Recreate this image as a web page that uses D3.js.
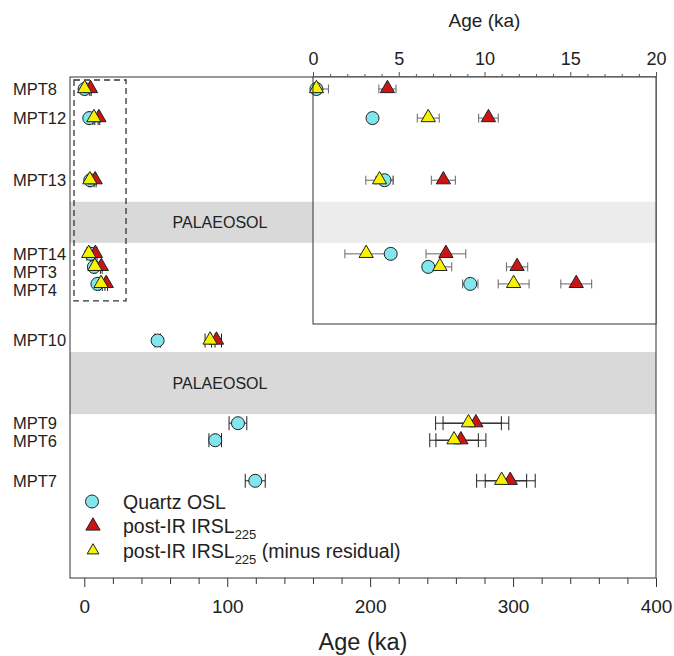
<!DOCTYPE html>
<html>
<head>
<meta charset="utf-8">
<script src="https://cdn.jsdelivr.net/npm/d3@7"></script>
<style>
  body { margin: 0; background: #fff; }
  svg { font-family: "Liberation Sans", Arial, sans-serif; }
</style>
</head>
<body>
<script>
// sample names and their position down the section (arbitrary depth units)
const samples = ["MPT8", "MPT12", "MPT13", "MPT14", "MPT3", "MPT4", "MPT10", "MPT9", "MPT6", "MPT7"];
const depth   = [2.4, 8.2, 20.6, 35.3, 37.9, 41.3, 52.6, 69.1, 72.5, 80.6];

// ages in ka with 1-sigma errors
const oslAge  = [0.2, 3.47, 4.17, 4.53, 6.72, 9.17, 51.3, 107.5, 91.6, 119.6];
const oslErr  = [0.3, 0.2, 0.5, 0.3, 0.3, 0.45, 2, 6.2, 4.4, 7];
const irslAge = [4.34, 10.23, 7.6, 7.75, 11.9, 15.35, 92.5, 274, 263.5, 298];
const irslErr = [0.5, 0.57, 0.7, 1.16, 0.62, 0.9, 3.5, 23, 17.5, 17.5];
const resAge  = [0.2, 6.72, 3.88, 3.1, 7.4, 11.7, 88, 268.8, 258.7, 292];
const resErr  = [0.7, 0.64, 0.8, 1.24, 0.69, 0.9, 3.5, 23, 17, 17.5];

// palaeosol units (depth from - to)
const palaeosols = [[24.9, 33.1], [54.9, 67.3]];

const mainTicks  = [0, 20, 40, 60, 80, 100, 120, 140, 160, 180, 200, 220, 240, 260, 280, 300, 320, 340, 360, 380, 400];
const insetTicks = [0, 1, 2, 3, 4, 5, 6, 7, 8, 9, 10, 11, 12, 13, 14, 15, 16, 17, 18, 19, 20];

const legendLabels = ["Quartz OSL", "post-IR IRSL", "post-IR IRSL"];

const W = 674, H = 656;
const colors = { osl: "#82e6ee", irsl: "#cc1414", res: "#f6f200" };

const svg = d3.select("body").append("svg")
  .attr("width", W)
  .attr("height", H);

// main scales
const x = d3.scaleLinear().domain([-10, 400]).range([70, 656]);
const y = d3.scaleLinear().domain([0, 100]).range([77, 578]);
// inset scale
const xi = d3.scaleLinear().domain([0, 20]).range([313, 656]);
const insetBottom = 49.3;

const rows = samples.map(function(s, i) {
  return {
    name: s, depth: depth[i],
    series: [
      { key: "osl", age: oslAge[i], err: oslErr[i] },
      { key: "irsl", age: irslAge[i], err: irslErr[i] },
      { key: "res", age: resAge[i], err: resErr[i] }
    ]
  };
});

const tri = d3.symbol().type(d3.symbolTriangle).size(88);

function drawPoints(g, xs, data, cap, barColor) {
  const pts = [];
  data.forEach(function(r) {
    r.series.forEach(function(s) { pts.push({ depth: r.depth, key: s.key, age: s.age, err: s.err }); });
  });
  // error bars (ages can't go below zero)
  const eb = g.append("g").attr("stroke", barColor).attr("stroke-width", 1).attr("fill", "none");
  pts.forEach(function(p) {
    const cy = y(p.depth), x0 = xs(Math.max(0, p.age - p.err)), x1 = xs(p.age + p.err);
    eb.append("line").attr("x1", x0).attr("x2", x1).attr("y1", cy).attr("y2", cy);
    if (p.age - p.err > 0)
      eb.append("line").attr("x1", x0).attr("x2", x0).attr("y1", cy - cap).attr("y2", cy + cap);
    eb.append("line").attr("x1", x1).attr("x2", x1).attr("y1", cy - cap).attr("y2", cy + cap);
  });
  // circles, then red, then yellow triangles
  g.selectAll("circle.osl")
    .data(pts.filter(function(p) { return p.key === "osl"; }))
    .enter().append("circle")
    .attr("class", "osl")
    .attr("cx", function(p) { return xs(p.age); })
    .attr("cy", function(p) { return y(p.depth); })
    .attr("r", 6.5)
    .attr("fill", colors.osl)
    .attr("stroke", "#222");
  ["irsl", "res"].forEach(function(k) {
    g.selectAll("path." + k)
      .data(pts.filter(function(p) { return p.key === k; }))
      .enter().append("path")
      .attr("class", k)
      .attr("d", tri)
      .attr("transform", function(p) { return "translate(" + xs(p.age) + "," + (y(p.depth) - 0.5) + ")"; })
      .attr("fill", colors[k])
      .attr("stroke", "#222");
  });
}

// palaeosol bands (main)
palaeosols.forEach(function(b) {
  svg.append("rect")
    .attr("x", x(-10)).attr("width", x(400) - x(-10))
    .attr("y", y(b[0])).attr("height", y(b[1]) - y(b[0]))
    .attr("fill", "#d9d9d9");
  svg.append("text")
    .attr("x", 220).attr("y", (y(b[0]) + y(b[1])) / 2)
    .attr("dy", "0.36em")
    .attr("text-anchor", "middle")
    .attr("font-size", "16px")
    .attr("fill", "#222")
    .text("PALAEOSOL");
});

// main frame
svg.append("rect")
  .attr("x", x(-10)).attr("y", y(0))
  .attr("width", x(400) - x(-10)).attr("height", y(100) - y(0))
  .attr("fill", "none").attr("stroke", "#333").attr("stroke-width", 1);

// main x axis
const xAxis = d3.axisBottom(x)
  .tickValues(mainTicks)
  .tickSize(9)
  .tickPadding(13)
  .tickFormat(function(d) { return d % 100 === 0 ? d : ""; });
const gx = svg.append("g")
  .attr("transform", "translate(0," + y(100) + ")")
  .call(xAxis);
gx.select(".domain").remove();
gx.selectAll(".tick line").attr("stroke", "#333").attr("y2", function(d) { return d % 100 === 0 ? 9 : 6; });
gx.selectAll(".tick text").attr("font-size", "19px").attr("font-family", "Liberation Sans, Arial, sans-serif").attr("fill", "#222");

svg.append("text")
  .attr("x", (x(-10) + x(400)) / 2).attr("y", 650)
  .attr("text-anchor", "middle")
  .attr("font-size", "23.5px").attr("fill", "#222")
  .text("Age (ka)");

// dashed box round the young samples
svg.append("rect")
  .attr("x", x(-7.2)).attr("y", y(0.6))
  .attr("width", x(29.2) - x(-7.2)).attr("height", y(44.7) - y(0.6))
  .attr("fill", "none").attr("stroke", "#333").attr("stroke-width", 1.3)
  .attr("stroke-dasharray", "6,4");

// main points
drawPoints(svg.append("g"), x, rows, 7, "#222");

// inset
const inset = svg.append("g");
inset.append("rect")
  .attr("x", xi(0)).attr("y", y(0))
  .attr("width", xi(20) - xi(0)).attr("height", y(insetBottom) - y(0))
  .attr("fill", "#fff");
inset.append("rect")
  .attr("x", xi(0)).attr("width", xi(20) - xi(0))
  .attr("y", y(palaeosols[0][0])).attr("height", y(palaeosols[0][1]) - y(palaeosols[0][0]))
  .attr("fill", "#ececec");
drawPoints(inset.append("g"), xi, rows.filter(function(r) { return r.depth < insetBottom; }), 4.5, "#666");
inset.append("rect")
  .attr("x", xi(0)).attr("y", y(0))
  .attr("width", xi(20) - xi(0)).attr("height", y(insetBottom) - y(0))
  .attr("fill", "none").attr("stroke", "#333").attr("stroke-width", 1);

const xiAxis = d3.axisTop(xi)
  .tickValues(insetTicks)
  .tickSize(5)
  .tickPadding(7)
  .tickFormat(function(d) { return d % 5 === 0 ? d : ""; });
const gxi = svg.append("g")
  .attr("transform", "translate(0," + y(0) + ")")
  .call(xiAxis);
gxi.select(".domain").remove();
gxi.selectAll(".tick line").attr("stroke", "#555").attr("y2", function(d) { return d % 5 === 0 ? -5 : -3; });
gxi.selectAll(".tick text").attr("font-size", "18px").attr("font-family", "Liberation Sans, Arial, sans-serif").attr("fill", "#222");

svg.append("text")
  .attr("x", (xi(0) + xi(20)) / 2).attr("y", 27)
  .attr("text-anchor", "middle")
  .attr("font-size", "19px").attr("fill", "#222")
  .text("Age (ka)");

// sample labels, nudged apart where they crowd
let prev = -100;
rows.forEach(function(r) {
  let ly = Math.max(y(r.depth), prev + 18);
  prev = ly;
  svg.append("text")
    .attr("x", 13).attr("y", ly)
    .attr("dy", "0.36em")
    .attr("font-size", "16.5px").attr("fill", "#222")
    .text(r.name);
});

// legend
const leg = svg.append("g");
const legY = [501.5, 526, 550.5];
leg.append("circle").attr("cx", 92).attr("cy", legY[0]).attr("r", 6.5)
  .attr("fill", colors.osl).attr("stroke", "#222");
leg.append("path").attr("d", tri).attr("transform", "translate(93," + legY[1] + ")")
  .attr("fill", colors.irsl).attr("stroke", "#222");
leg.append("path").attr("d", d3.symbol().type(d3.symbolTriangle).size(60))
  .attr("transform", "translate(93," + legY[2] + ")")
  .attr("fill", colors.res).attr("stroke", "#222");
legendLabels.forEach(function(t, i) {
  const tx = leg.append("text")
    .attr("x", 123).attr("y", legY[i] + 7)
    .attr("font-size", "19.5px").attr("fill", "#222")
    .text(t);
  if (i > 0) {
    tx.append("tspan").attr("font-size", "13px").attr("dy", 6).text("225");
    if (i === 2) tx.append("tspan").attr("dy", -6).text(" (minus residual)");
  }
});
</script>
</body>
</html>
